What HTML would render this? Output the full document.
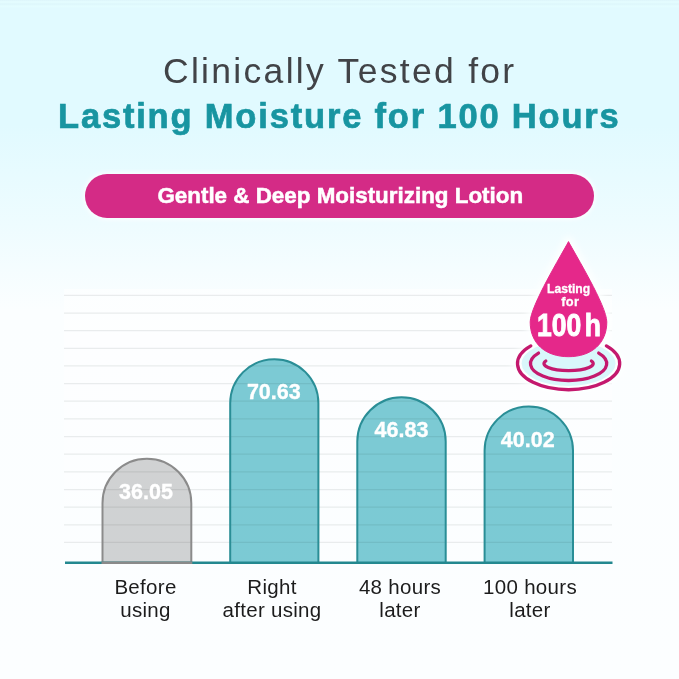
<!DOCTYPE html>
<html>
<head>
<meta charset="utf-8">
<title>Clinically Tested for Lasting Moisture for 100 Hours</title>
<style>
html,body{margin:0;padding:0;}
body{width:679px;height:679px;overflow:hidden;font-family:"Liberation Sans",sans-serif;}
#page{position:relative;width:679px;height:679px;overflow:hidden;
 background:linear-gradient(to bottom,#e1faff 0px,#e1faff 125px,#eefcff 225px,#fbfeff 310px,#fcfeff 679px);}
.t{position:absolute;white-space:nowrap;line-height:1;transform-origin:left top;margin:0;padding:0;}
#h1{left:163px;top:53.6px;font-size:35.5px;letter-spacing:2.3px;color:#414347;}
#h2{left:58px;top:98.5px;font-size:34.5px;letter-spacing:1.82px;font-weight:bold;color:#1895a1;-webkit-text-stroke:.7px #1895a1;}
#pill{position:absolute;left:85px;top:174.3px;width:509px;height:44.2px;border-radius:22.1px;background:#d42b86;box-shadow:0 0 4px 2px rgba(255,255,255,.7);}
#pt{left:157.4px;top:185.1px;font-size:22.4px;font-weight:bold;color:#fff;-webkit-text-stroke:.5px #fff;}
.lab{position:absolute;text-align:center;font-size:20.5px;letter-spacing:.3px;line-height:22.6px;color:#1c1c1c;width:140px;}
.val{position:absolute;width:90px;text-align:center;font-size:21.5px;font-weight:bold;color:#fff;line-height:1;-webkit-text-stroke:.35px #fff;}
svg{position:absolute;left:0;top:0;}
</style>
</head>
<body>
<div id="page">
<svg width="679" height="679" viewBox="0 0 679 679">
 <defs><linearGradient id="wg" x1="0" y1="0" x2="0" y2="1"><stop offset="0" stop-color="#fff" stop-opacity=".55"/><stop offset=".5" stop-color="#fff" stop-opacity=".4"/><stop offset="1" stop-color="#fff" stop-opacity="0"/></linearGradient></defs>
 <rect x="64" y="289" width="548" height="273" fill="url(#wg)"/>
 <g stroke="#e9eced" stroke-width="1.25">
  <line x1="64" x2="612" y1="295.3" y2="295.3"/>
  <line x1="64" x2="612" y1="313" y2="313"/>
  <line x1="64" x2="612" y1="330.6" y2="330.6"/>
  <line x1="64" x2="612" y1="348.3" y2="348.3"/>
  <line x1="64" x2="612" y1="365.9" y2="365.9"/>
  <line x1="64" x2="612" y1="383.6" y2="383.6"/>
  <line x1="64" x2="612" y1="401.2" y2="401.2"/>
  <line x1="64" x2="612" y1="418.9" y2="418.9"/>
  <line x1="64" x2="612" y1="436.5" y2="436.5"/>
  <line x1="64" x2="612" y1="454.2" y2="454.2"/>
  <line x1="64" x2="612" y1="471.8" y2="471.8"/>
  <line x1="64" x2="612" y1="489.5" y2="489.5"/>
  <line x1="64" x2="612" y1="507.1" y2="507.1"/>
  <line x1="64" x2="612" y1="524.8" y2="524.8"/>
  <line x1="64" x2="612" y1="542.4" y2="542.4"/>
 </g>
 <!-- bars -->
 <g style="mix-blend-mode:multiply">
  <path d="M102.5 562.5 V503.2 A44.4 44.4 0 0 1 191.3 503.2 V562.5 Z" fill="#d3d3d3"/>
  <path d="M230.2 562.5 V403.3 A44.1 44.1 0 0 1 318.4 403.3 V562.5 Z" fill="#7dcbd4"/>
  <path d="M357.3 562.5 V441.5 A44.2 44.2 0 0 1 445.7 441.5 V562.5 Z" fill="#7dcbd4"/>
  <path d="M484.6 562.5 V450.6 A44.2 44.2 0 0 1 573 450.6 V562.5 Z" fill="#7dcbd4"/>
 </g>
 <g fill="none" stroke-width="2">
  <path d="M102.5 562.5 V503.2 A44.4 44.4 0 0 1 191.3 503.2 V562.5" stroke="#8b8b8b"/>
  <path d="M230.2 562.5 V403.3 A44.1 44.1 0 0 1 318.4 403.3 V562.5" stroke="#2a8e96"/>
  <path d="M357.3 562.5 V441.5 A44.2 44.2 0 0 1 445.7 441.5 V562.5" stroke="#2a8e96"/>
  <path d="M484.6 562.5 V450.6 A44.2 44.2 0 0 1 573 450.6 V562.5" stroke="#2a8e96"/>
 </g>
 <line x1="65" x2="612.5" y1="562.7" y2="562.7" stroke="#23888f" stroke-width="2.4"/>
 <line x1="101.5" x2="192.3" y1="562.7" y2="562.7" stroke="#8a8a8a" stroke-width="2.4"/>
 <!-- ripple halo -->
 <defs><filter id="bl" x="-30%" y="-30%" width="160%" height="160%"><feGaussianBlur stdDeviation="3"/></filter></defs>
 <ellipse cx="568.6" cy="364" rx="57" ry="30" fill="#fdffff" filter="url(#bl)"/>
 <path d="M568.5 241.6 C562.26 253.6 530.2 306 530.2 322 C530.2 343.17 545.14 356.7 568.5 356.7 C591.86 356.7 606.8 343.17 606.8 322 C606.8 306 574.74 253.6 568.5 241.6 Z" fill="#fdffff" stroke="#fdffff" stroke-width="9" stroke-linejoin="round" filter="url(#bl)"/>
 <ellipse cx="568.6" cy="363.5" rx="47" ry="22.5" fill="#d9f7fb"/>
 <g fill="none" stroke="#c4196e" stroke-width="3.3" stroke-linecap="round">
  <path d="M530.8 345.9 A51.1 26.2 0 1 0 606.4 345.9"/>
  <path d="M538.5 353.1 A38.1 17 0 1 0 598.7 353.1"/>
  <path d="M545.8 361 A24.6 7 0 1 0 591.4 361"/>
 </g>
 <!-- drop -->
 <path d="M568.5 241.6 C562.26 253.6 530.2 306 530.2 322 C530.2 343.17 545.14 356.7 568.5 356.7 C591.86 356.7 606.8 343.17 606.8 322 C606.8 306 574.74 253.6 568.5 241.6 Z" fill="#e5288a" stroke="#e5288a" stroke-width="1" stroke-linejoin="round"/>
</svg>
<div style="position:absolute;left:0;top:0;width:679px;height:8px;background:linear-gradient(to bottom,#dcf4fa 0px,#e5fdff 2px,#ddf6fb 4px,#e4fdff 6px,#e1faff 8px);"></div>
<div class="t" id="h1">Clinically Tested for</div>
<div class="t" id="h2">Lasting Moisture for 100 Hours</div>
<div id="pill"></div>
<div class="t" id="pt">Gentle &amp; Deep Moisturizing Lotion</div>

<div class="val" style="left:101px;top:482.3px;">36.05</div>
<div class="val" style="left:228.8px;top:381.6px;">70.63</div>
<div class="val" style="left:356.5px;top:420.2px;">46.83</div>
<div class="val" style="left:482.7px;top:429.6px;">40.02</div>

<div class="lab" style="left:75.5px;top:576.2px;">Before<br>using</div>
<div class="lab" style="left:202px;top:576.2px;">Right<br>after using</div>
<div class="lab" style="left:330px;top:576.2px;">48 hours<br>later</div>
<div class="lab" style="left:460px;top:576.2px;">100 hours<br>later</div>

<div class="t" id="d1" style="left:547.2px;top:283.4px;font-size:12.8px;font-weight:bold;color:#fff;-webkit-text-stroke:.3px #fff;transform:scaleX(.95);">Lasting</div>
<div class="t" id="d2" style="left:561.3px;top:296.3px;font-size:12.8px;font-weight:bold;color:#fff;-webkit-text-stroke:.3px #fff;letter-spacing:.3px;">for</div>
<div class="t" id="d3" style="left:536.6px;top:309.8px;font-size:30.5px;font-weight:bold;color:#fff;-webkit-text-stroke:.9px #fff;transform:scaleX(.87);">100<span style="margin-left:4px">h</span></div>
</div>
</body>
</html>
